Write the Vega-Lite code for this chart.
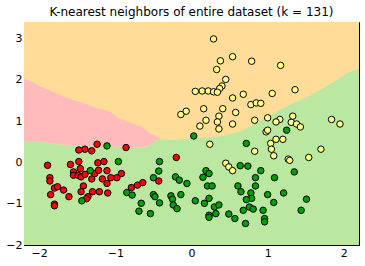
{
  "$schema": "https://vega.github.io/schema/vega-lite/v6.json",
  "width": 335,
  "height": 223,
  "autosize": {"type": "none"},
  "padding": {"left": 24, "top": 22, "right": 6, "bottom": 21},
  "background": "white",
  "title": {"text": "K-nearest neighbors of entire dataset (k = 131)", "font": "DejaVu Sans", "fontSize": 12, "fontWeight": "normal", "color": "black", "offset": 3},
  "config": {
    "view": {"stroke": "black", "strokeWidth": 1},
    "axis": {"labelFont": "DejaVu Sans", "labelFontSize": 11, "labelColor": "black", "tickColor": "black", "tickSize": -4, "labelPadding": 6, "domain": false, "grid": false, "title": null}
  },
  "datasets": {
    "bg": [{"x": -2.2, "top": 3.4, "bottom": -2.0}, {"x": 2.2, "top": 3.4, "bottom": -2.0}],
    "green": [
      {"x": -2.2, "top": 0.52}, {"x": -1.95, "top": 0.50}, {"x": -1.77, "top": 0.44}, {"x": -1.55, "top": 0.42},
      {"x": -1.12, "top": 0.40}, {"x": -0.76, "top": 0.35}, {"x": -0.59, "top": 0.38}, {"x": -0.52, "top": 0.46},
      {"x": -0.46, "top": 0.54}, {"x": -0.42, "top": 0.56}, {"x": -0.25, "top": 0.54}, {"x": -0.03, "top": 0.58},
      {"x": 0.19, "top": 0.6}, {"x": 0.41, "top": 0.64}, {"x": 0.63, "top": 0.74}, {"x": 0.81, "top": 0.9},
      {"x": 0.98, "top": 1.1}, {"x": 1.16, "top": 1.27}, {"x": 1.33, "top": 1.43}, {"x": 1.51, "top": 1.57},
      {"x": 1.68, "top": 1.75}, {"x": 1.86, "top": 1.95}, {"x": 2.04, "top": 2.16}, {"x": 2.2, "top": 2.28}
    ],
    "pink": [
      {"x": -2.2, "top": 2.03, "bottom": 0.52}, {"x": -2.08, "top": 1.94, "bottom": 0.51}, {"x": -1.95, "top": 1.81, "bottom": 0.5},
      {"x": -1.82, "top": 1.71, "bottom": 0.46}, {"x": -1.68, "top": 1.59, "bottom": 0.43}, {"x": -1.55, "top": 1.51, "bottom": 0.42},
      {"x": -1.42, "top": 1.43, "bottom": 0.415}, {"x": -1.25, "top": 1.32, "bottom": 0.405}, {"x": -1.07, "top": 1.23, "bottom": 0.4},
      {"x": -0.96, "top": 1.07, "bottom": 0.38}, {"x": -0.81, "top": 0.98, "bottom": 0.36}, {"x": -0.65, "top": 0.86, "bottom": 0.365},
      {"x": -0.54, "top": 0.70, "bottom": 0.43}, {"x": -0.46, "top": 0.62, "bottom": 0.54}, {"x": -0.41, "top": 0.58, "bottom": 0.57}
    ],
    "pts": [
      {"x": -1.89, "y": -0.07, "c": "0"}, {"x": -1.86, "y": -0.37, "c": "0"}, {"x": -1.86, "y": -0.45, "c": "0"}, {"x": -1.80, "y": -0.62, "c": "0"},
      {"x": -1.85, "y": -0.78, "c": "0"}, {"x": -1.80, "y": -1.01, "c": "0"}, {"x": -1.80, "y": -1.05, "c": "0"}, {"x": -1.76, "y": -0.59, "c": "0"},
      {"x": -1.68, "y": -0.67, "c": "0"}, {"x": -1.61, "y": -0.83, "c": "0"}, {"x": -1.59, "y": -0.05, "c": "0"}, {"x": -1.55, "y": -0.23, "c": "0"},
      {"x": -1.55, "y": -0.31, "c": "0"}, {"x": -1.48, "y": 0.30, "c": "0"}, {"x": -1.40, "y": 0.32, "c": "0"}, {"x": -1.31, "y": 0.28, "c": "0"},
      {"x": -1.24, "y": 0.44, "c": "0"}, {"x": -1.48, "y": 0.02, "c": "0"}, {"x": -1.46, "y": -0.15, "c": "0"}, {"x": -1.49, "y": -0.31, "c": "0"},
      {"x": -1.45, "y": -0.35, "c": "0"}, {"x": -1.40, "y": -0.29, "c": "0"}, {"x": -1.42, "y": -0.57, "c": "0"}, {"x": -1.45, "y": -0.71, "c": "0"},
      {"x": -1.36, "y": -0.83, "c": "0"}, {"x": -1.38, "y": -0.88, "c": "0"}, {"x": -1.30, "y": -0.71, "c": "0"}, {"x": -1.31, "y": -0.40, "c": "0"},
      {"x": -1.27, "y": -0.27, "c": "0"}, {"x": -1.23, "y": -0.01, "c": "0"}, {"x": -1.22, "y": -0.19, "c": "0"}, {"x": -1.21, "y": -0.71, "c": "0"},
      {"x": -1.17, "y": -0.40, "c": "0"}, {"x": -1.15, "y": 0.02, "c": "0"}, {"x": -1.11, "y": -0.20, "c": "0"}, {"x": -1.11, "y": -0.51, "c": "0"},
      {"x": -1.10, "y": -0.74, "c": "0"}, {"x": -1.06, "y": -0.37, "c": "0"}, {"x": -0.98, "y": -0.37, "c": "0"}, {"x": -0.92, "y": -0.27, "c": "0"},
      {"x": -0.86, "y": 0.36, "c": "0"}, {"x": -0.79, "y": -0.61, "c": "0"}, {"x": -0.71, "y": -0.55, "c": "0"}, {"x": -0.64, "y": -0.49, "c": "0"},
      {"x": -0.43, "y": -0.45, "c": "0"}, {"x": -0.20, "y": 0.12, "c": "0"},
      {"x": -1.11, "y": 0.40, "c": "1"}, {"x": -1.33, "y": -0.20, "c": "1"}, {"x": -1.44, "y": -0.93, "c": "1"}, {"x": -0.96, "y": 0.02, "c": "1"},
      {"x": -0.85, "y": -0.73, "c": "1"}, {"x": -0.78, "y": -0.79, "c": "1"}, {"x": -0.66, "y": -0.99, "c": "1"}, {"x": -0.69, "y": -1.18, "c": "1"},
      {"x": -0.54, "y": -1.24, "c": "1"}, {"x": -0.50, "y": -0.37, "c": "1"}, {"x": -0.50, "y": -0.78, "c": "1"}, {"x": -0.48, "y": -0.83, "c": "1"},
      {"x": -0.43, "y": -0.21, "c": "1"}, {"x": -0.42, "y": 0.02, "c": "1"}, {"x": -0.42, "y": -0.98, "c": "1"}, {"x": -0.27, "y": -0.81, "c": "1"},
      {"x": -0.25, "y": -0.89, "c": "1"}, {"x": -0.24, "y": -1.03, "c": "1"}, {"x": -0.19, "y": -1.12, "c": "1"}, {"x": -0.21, "y": -0.35, "c": "1"},
      {"x": -0.16, "y": -0.43, "c": "1"}, {"x": -0.14, "y": -0.78, "c": "1"}, {"x": -0.06, "y": -0.51, "c": "1"}, {"x": 0.03, "y": 0.64, "c": "1"},
      {"x": 0.05, "y": -0.93, "c": "1"}, {"x": 0.15, "y": -0.36, "c": "1"}, {"x": 0.19, "y": -0.20, "c": "1"}, {"x": 0.23, "y": -0.27, "c": "1"},
      {"x": 0.21, "y": -0.57, "c": "1"}, {"x": 0.27, "y": -0.57, "c": "1"}, {"x": 0.17, "y": -0.99, "c": "1"}, {"x": 0.23, "y": -0.87, "c": "1"},
      {"x": 0.30, "y": -1.08, "c": "1"}, {"x": 0.36, "y": -1.03, "c": "1"}, {"x": 0.23, "y": -1.28, "c": "1"}, {"x": 0.23, "y": -1.33, "c": "1"},
      {"x": 0.32, "y": -1.24, "c": "1"}, {"x": 0.49, "y": -1.25, "c": "1"}, {"x": 0.57, "y": -1.36, "c": "1"}, {"x": 0.64, "y": -0.08, "c": "1"},
      {"x": 0.74, "y": -0.09, "c": "1"}, {"x": 0.61, "y": -0.57, "c": "1"}, {"x": 0.65, "y": -0.71, "c": "1"}, {"x": 0.78, "y": -0.74, "c": "1"},
      {"x": 0.79, "y": -0.87, "c": "1"}, {"x": 0.72, "y": -0.90, "c": "1"}, {"x": 0.76, "y": -1.08, "c": "1"}, {"x": 0.81, "y": -1.13, "c": "1"},
      {"x": 0.68, "y": -1.16, "c": "1"}, {"x": 0.71, "y": -1.48, "c": "1"}, {"x": 0.72, "y": 0.46, "c": "1"}, {"x": 0.91, "y": -0.20, "c": "1"},
      {"x": 0.84, "y": -0.37, "c": "1"}, {"x": 0.84, "y": -0.57, "c": "1"}, {"x": 0.94, "y": -1.16, "c": "1"}, {"x": 0.96, "y": -1.36, "c": "1"},
      {"x": 0.96, "y": -1.44, "c": "1"}, {"x": 1.00, "y": -0.78, "c": "1"}, {"x": 1.09, "y": -0.37, "c": "1"}, {"x": 1.08, "y": -0.97, "c": "1"},
      {"x": 1.21, "y": -0.74, "c": "1"}, {"x": 1.35, "y": -0.23, "c": "1"}, {"x": 1.51, "y": -0.89, "c": "1"}, {"x": 1.44, "y": -1.16, "c": "1"},
      {"x": 1.25, "y": 0.78, "c": "1"},
      {"x": 0.29, "y": 2.99, "c": "2"}, {"x": 0.54, "y": 2.56, "c": "2"}, {"x": 0.38, "y": 2.46, "c": "2"}, {"x": 0.33, "y": 2.25, "c": "2"},
      {"x": 0.79, "y": 2.45, "c": "2"}, {"x": 1.17, "y": 2.35, "c": "2"}, {"x": 0.45, "y": 2.01, "c": "2"}, {"x": 0.40, "y": 1.85, "c": "2"},
      {"x": 0.37, "y": 1.79, "c": "2"}, {"x": 0.05, "y": 1.72, "c": "2"}, {"x": 0.14, "y": 1.73, "c": "2"}, {"x": 0.22, "y": 1.73, "c": "2"},
      {"x": 0.29, "y": 1.71, "c": "2"}, {"x": 0.34, "y": 1.70, "c": "2"}, {"x": 0.54, "y": 1.56, "c": "2"}, {"x": 0.68, "y": 1.65, "c": "2"},
      {"x": 1.06, "y": 1.67, "c": "2"}, {"x": 1.36, "y": 1.76, "c": "2"}, {"x": 0.78, "y": 1.40, "c": "2"}, {"x": 0.85, "y": 1.44, "c": "2"},
      {"x": 0.91, "y": 1.43, "c": "2"}, {"x": 0.16, "y": 1.30, "c": "2"}, {"x": 0.41, "y": 1.30, "c": "2"}, {"x": -0.07, "y": 1.24, "c": "2"},
      {"x": -0.14, "y": 1.16, "c": "2"}, {"x": 0.58, "y": 1.21, "c": "2"}, {"x": 0.36, "y": 1.12, "c": "2"}, {"x": 0.19, "y": 1.02, "c": "2"},
      {"x": 0.34, "y": 0.98, "c": "2"}, {"x": 0.83, "y": 1.02, "c": "2"}, {"x": 1.00, "y": 1.08, "c": "2"}, {"x": 1.16, "y": 1.04, "c": "2"},
      {"x": 1.11, "y": 0.98, "c": "2"}, {"x": 1.33, "y": 1.12, "c": "2"}, {"x": 1.31, "y": 0.97, "c": "2"}, {"x": 1.38, "y": 0.93, "c": "2"},
      {"x": 1.43, "y": 0.86, "c": "2"}, {"x": 0.11, "y": 0.88, "c": "2"}, {"x": 0.36, "y": 0.81, "c": "2"}, {"x": 0.54, "y": 0.93, "c": "2"},
      {"x": 1.84, "y": 1.04, "c": "2"}, {"x": 1.95, "y": 0.93, "c": "2"}, {"x": 0.98, "y": 0.74, "c": "2"}, {"x": 1.00, "y": 0.78, "c": "2"},
      {"x": 0.24, "y": 0.44, "c": "2"}, {"x": 0.45, "y": -0.02, "c": "2"}, {"x": 0.49, "y": -0.11, "c": "2"}, {"x": 0.54, "y": -0.20, "c": "2"},
      {"x": 0.83, "y": 0.27, "c": "2"}, {"x": 1.04, "y": 0.46, "c": "2"}, {"x": 1.11, "y": 0.56, "c": "2"}, {"x": 1.20, "y": 0.56, "c": "2"},
      {"x": 1.05, "y": 0.32, "c": "2"}, {"x": 1.08, "y": 0.16, "c": "2"}, {"x": 1.27, "y": 0.08, "c": "2"}, {"x": 1.29, "y": 0.05, "c": "2"},
      {"x": 1.54, "y": 0.12, "c": "2"}, {"x": 1.70, "y": 0.32, "c": "2"}
    ]
  },
  "resolve": {"axis": {"x": "independent", "y": "independent"}},
  "layer": [
    {
      "data": {"name": "bg"},
      "mark": {"type": "area", "color": "#FFDD99"},
      "encoding": {
        "x": {"field": "x", "type": "quantitative", "scale": {"domain": [-2.2, 2.2], "nice": false, "zero": false}, "axis": {"values": [-2, -1, 0, 1, 2], "orient": "bottom"}},
        "y": {"field": "top", "type": "quantitative", "scale": {"domain": [-2, 3.4], "nice": false, "zero": false}, "axis": {"values": [-2, -1, 0, 1, 2, 3], "orient": "left"}},
        "y2": {"field": "bottom"}
      }
    },
    {
      "data": {"name": "green"},
      "mark": {"type": "area", "color": "#BBE8A0"},
      "encoding": {
        "x": {"field": "x", "type": "quantitative", "axis": {"values": [-2, -1, 0, 1, 2], "orient": "top", "labels": false}},
        "y": {"field": "top", "type": "quantitative", "axis": {"values": [-2, -1, 0, 1, 2, 3], "orient": "right", "labels": false}},
        "y2": {"datum": -2}
      }
    },
    {
      "data": {"name": "pink"},
      "mark": {"type": "area", "color": "#FFBBBB"},
      "encoding": {
        "x": {"field": "x", "type": "quantitative", "axis": null},
        "y": {"field": "top", "type": "quantitative", "axis": null},
        "y2": {"field": "bottom"}
      }
    },
    {
      "data": {"name": "pts"},
      "mark": {"type": "point", "shape": "circle", "filled": true, "size": 42, "stroke": "black", "strokeWidth": 1, "opacity": 1},
      "encoding": {
        "x": {"field": "x", "type": "quantitative", "axis": null},
        "y": {"field": "y", "type": "quantitative", "axis": null},
        "color": {"field": "c", "type": "nominal", "scale": {"domain": ["0", "1", "2"], "range": ["#FF0000", "#00A000", "#FFFF88"]}, "legend": null}
      }
    }
  ]
}
